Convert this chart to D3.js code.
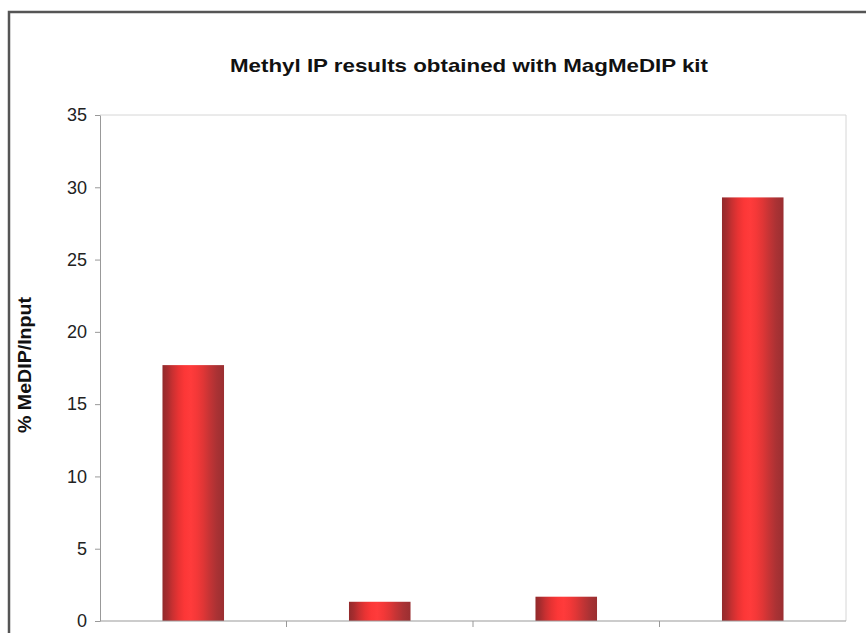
<!DOCTYPE html>
<html>
<head>
<meta charset="utf-8">
<script src="https://cdn.jsdelivr.net/npm/d3@7"></script>
<style>
  body { margin: 0; background: #fff; }
  svg { display: block; font-family: "Liberation Sans", Arial, sans-serif; }
</style>
</head>
<body>
<div id="chart"></div>
<script>
var width = 866, height = 633;

// data
const categories = ["A", "B", "C", "D"];
const values = [17.7, 1.33, 1.68, 29.3];
const yTicks = [0, 5, 10, 15, 20, 25, 30, 35];

const margin = {left: 100, right: 20, top: 115, bottom: 12};

const svg = d3.select("div#chart")
  .append("svg")
  .attr("width", width)
  .attr("height", height);

// outer frame of the chart
svg.append("path")
  .attr("d", `M9,${height}V12H${width}`)
  .attr("fill", "none")
  .attr("stroke", "#555")
  .attr("stroke-width", 2.5);

const x = d3.scaleBand()
  .domain(categories)
  .range([margin.left, width - margin.right])
  .paddingInner(0.67)
  .paddingOuter(0.335);

const y = d3.scaleLinear()
  .domain([0, 35])
  .range([621, margin.top]);

// cylinder-like striped gradient
const grad = svg.append("defs").append("linearGradient")
  .attr("id", "barfill")
  .attr("x1", "0%").attr("x2", "100%");
[[0, "#922a2c"], [0.08, "#a82c2e"], [0.16, "#c83031"], [0.26, "#e83333"],
 [0.36, "#fc3737"], [0.46, "#ff3b3b"], [0.56, "#f43838"], [0.66, "#e03636"],
 [0.76, "#c63435"], [0.88, "#aa3234"], [1, "#9a2f31"]]
  .forEach(s => grad.append("stop").attr("offset", s[0]).attr("stop-color", s[1]));

// plot frame (top and right)
svg.append("path")
  .attr("d", `M${margin.left},${y(35)}H${width - margin.right}V${y(0)}`)
  .attr("fill", "none")
  .attr("stroke", "#d6d6d6")
  .attr("stroke-width", 1);

svg.append("g")
  .selectAll("rect")
  .data(values)
  .join("rect")
  .attr("x", (d, i) => x(categories[i]))
  .attr("width", x.bandwidth())
  .attr("y", d => y(d))
  .attr("height", d => y(0) - y(d))
  .attr("fill", "url(#barfill)");

// y axis
const yAxis = svg.append("g")
  .attr("transform", `translate(${margin.left},0)`)
  .call(d3.axisLeft(y).tickValues(yTicks).tickSize(5).tickPadding(8).tickSizeOuter(0));
yAxis.select(".domain").attr("stroke", "#999");
yAxis.selectAll(".tick line").attr("stroke", "#999");
yAxis.selectAll(".tick text")
  .attr("font-size", 18)
  .attr("font-family", "Liberation Sans, Arial, sans-serif")
  .attr("fill", "#222");

// x axis with ticks between categories
const step = x.step();
const xAxis = svg.append("g")
  .attr("transform", `translate(0,${y(0)})`);
xAxis.append("line")
  .attr("x1", margin.left).attr("x2", width - margin.right)
  .attr("stroke", "#999");
xAxis.selectAll(".sep")
  .data(categories.slice(1))
  .join("line")
  .attr("class", "sep")
  .attr("x1", d => x(d) - x.paddingInner() * step / 2)
  .attr("x2", d => x(d) - x.paddingInner() * step / 2)
  .attr("y1", 0).attr("y2", 6)
  .attr("stroke", "#999");

// title
svg.append("text")
  .attr("x", 469)
  .attr("y", 72)
  .attr("text-anchor", "middle")
  .attr("font-size", 19)
  .attr("font-weight", "bold")
  .attr("fill", "#111")
  .attr("textLength", 478)
  .attr("lengthAdjust", "spacingAndGlyphs")
  .text("Methyl IP results obtained with MagMeDIP kit");

// y axis label
svg.append("text")
  .attr("transform", "translate(31,365) rotate(-90)")
  .attr("text-anchor", "middle")
  .attr("font-size", 18)
  .attr("font-weight", "bold")
  .attr("fill", "#111")
  .attr("textLength", 136)
  .attr("lengthAdjust", "spacingAndGlyphs")
  .text("% MeDIP/Input");
</script>
</body>
</html>
